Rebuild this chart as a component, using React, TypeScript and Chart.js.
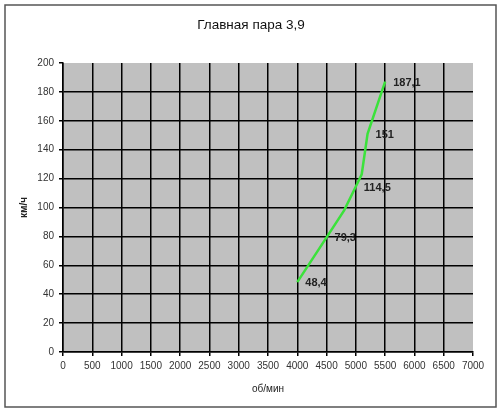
import { useEffect, useRef } from 'react';
import { Chart, registerables } from 'chart.js';

Chart.register(...registerables);

// rpm values and speeds
const rpm = [4000, 4500, 4800, 5000, 5100, 5200, 5500];
const speed = [48.4, 79.3, 98, 114.5, 123, 151, 187.1];
const pointLabels = ['48,4', '79,3', '', '114,5', '', '151', '187,1'];

const titleText = 'Главная пара 3,9';
const xTitle = 'об/мин';
const yTitle = 'км/ч';

const FONT = '"Liberation Sans", Arial, sans-serif';

// white page, outer frame and the chart title
const framePlugin = {
  id: 'frame',
  beforeDraw(chart: Chart) {
    const ctx = chart.ctx;
    ctx.save();
    ctx.fillStyle = '#ffffff';
    ctx.fillRect(0, 0, chart.width, chart.height);
    ctx.strokeStyle = '#555555';
    ctx.lineWidth = 1.5;
    ctx.strokeRect(5, 5, 491, 402);
    ctx.font = `13.5px ${FONT}`;
    ctx.fillStyle = '#111111';
    ctx.textAlign = 'center';
    ctx.textBaseline = 'middle';
    ctx.fillText(titleText, 251, 25);
    ctx.restore();
  },
};

const plotBgPlugin = {
  id: 'plotBg',
  beforeDraw(chart: Chart) {
    const { ctx, chartArea } = chart;
    ctx.save();
    ctx.fillStyle = '#c0c0c0';
    ctx.fillRect(chartArea.left, chartArea.top, chartArea.right - chartArea.left, chartArea.bottom - chartArea.top);
    ctx.restore();
  },
};

const labelPlugin = {
  id: 'pointLabels',
  afterDatasetsDraw(chart: Chart) {
    const ctx = chart.ctx;
    const meta = chart.getDatasetMeta(0);
    ctx.save();
    ctx.font = `bold 11px ${FONT}`;
    ctx.fillStyle = '#222222';
    ctx.textAlign = 'left';
    ctx.textBaseline = 'middle';
    meta.data.forEach((pt, i) => {
      const text = pointLabels[i];
      if (!text) return;
      ctx.fillText(text, pt.x + 8, pt.y + 1);
    });
    ctx.restore();
  },
};

export default function App() {
  const canvasRef = useRef<HTMLCanvasElement>(null);

  useEffect(() => {
    if (!canvasRef.current) return;
    const chart = new Chart(canvasRef.current, {
      type: 'line',
      data: {
        datasets: [
          {
            data: rpm.map((x, i) => ({ x, y: speed[i] })),
            borderColor: '#3be23b',
            borderWidth: 2.5,
            pointRadius: 0,
            tension: 0,
          },
        ],
      },
      options: {
        responsive: true,
        maintainAspectRatio: false,
        animation: false,
        layout: { padding: { left: 0, right: 27, top: 63, bottom: 0 } },
        plugins: {
          legend: { display: false },
          tooltip: { enabled: false },
          title: { display: false },
        },
        scales: {
          x: {
            type: 'linear',
            min: 0,
            max: 7000,
            ticks: {
              stepSize: 500,
              color: '#333333',
              font: { family: FONT, size: 10 },
              padding: 4,
              maxRotation: 0,
              autoSkip: false,
              callback: (v: any) => String(v),
            },
            grid: {
              color: (c: any) => (c.tick && c.tick.value === 7000 ? 'rgba(0,0,0,0)' : '#000000'),
              tickColor: '#000000',
              lineWidth: 1.5,
              tickLength: 4,
            },
            border: { color: '#000000', width: 1.5 },
            title: {
              display: true,
              text: xTitle,
              color: '#222222',
              font: { family: FONT, size: 10 },
              padding: { top: 0, bottom: 22 },
            },
            afterFit: (scale: any) => {
              scale.height = 65;
            },
          },
          y: {
            type: 'linear',
            min: 0,
            max: 200,
            ticks: {
              stepSize: 20,
              color: '#333333',
              font: { family: FONT, size: 10 },
              padding: 5,
              callback: (v: any) => String(v),
            },
            grid: {
              color: (c: any) => (c.tick && c.tick.value === 200 ? 'rgba(0,0,0,0)' : '#000000'),
              tickColor: '#000000',
              lineWidth: 1.5,
              tickLength: 4,
            },
            border: { color: '#000000', width: 1.5 },
            title: {
              display: true,
              text: yTitle,
              color: '#222222',
              font: { family: FONT, size: 10, weight: 'bold' },
              padding: { top: 18, bottom: 0 },
            },
            afterFit: (scale: any) => {
              scale.width = 63;
            },
          },
        },
      },
      plugins: [framePlugin, plotBgPlugin, labelPlugin],
    });
    return () => chart.destroy();
  }, []);

  return (
    <div style={{ position: 'absolute', left: 0, top: 0, width: 500, height: 417 }}>
      <canvas ref={canvasRef}></canvas>
    </div>
  );
}
